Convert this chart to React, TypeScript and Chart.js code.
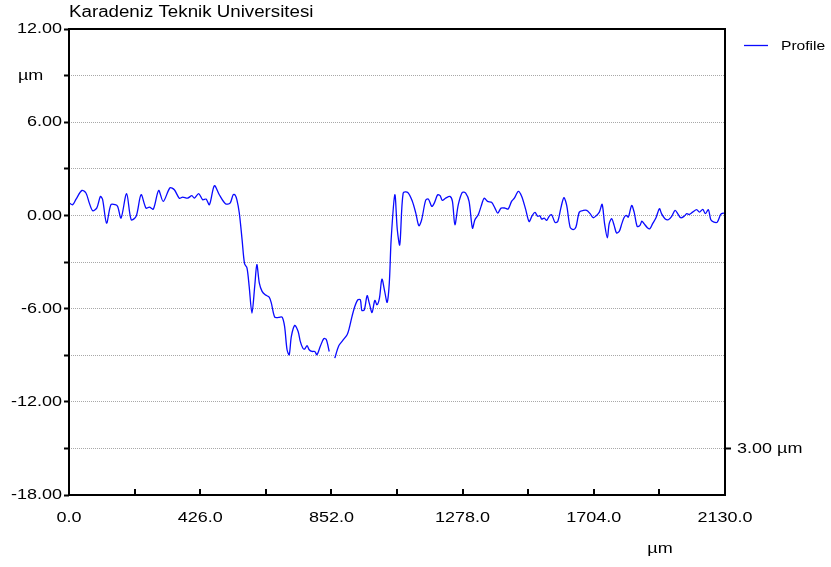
import React, { useEffect, useRef } from "react";
import { Chart, registerables } from "chart.js";

Chart.register(...registerables);

const TITLE = "Karadeniz Teknik Universitesi";
const SERIES_LABEL = "Profile";
const UNIT = "µm";
const SCALE_BAR_LABEL = "3.00 µm";
const SCALE_BAR_VALUE = -15;

const X_MIN = 0;
const X_MAX = 2130;
const X_MINOR_STEP = 213;
const X_LABEL_STEP = 426;

const Y_MIN = -18;
const Y_MAX = 12;
const Y_STEP = 3;
const Y_LABEL_STEP = 6;
const Y_UNIT_TICK = 9;

// Profile positions (µm) and heights (µm); null marks the gap in the trace
const profileX = [
  1, 12, 23, 42, 55, 66, 77, 90, 102, 109, 122, 136, 150, 158, 169, 187, 202, 218, 234, 250,
  261, 274, 291, 306, 328, 342, 358, 369, 385, 399, 407, 421, 434, 445, 456, 472, 488, 508, 523, 533,
  539, 545, 553, 562, 570, 578, 585, 594, 603, 610, 618, 627, 637, 650, 657, 668, 681, 692, 700, 708,
  715, 722, 733, 744, 751, 759, 765, 773, 780, 789, 798, 805, 816, 827, 835, 845, 850, 863, 876, 889,
  903, 910, 919, 928, 938, 946, 951, 959, 968, 975, 984, 993, 1000, 1008, 1016, 1025, 1033, 1040, 1046, 1058,
  1066, 1074, 1085, 1100, 1115, 1126, 1136, 1145, 1158, 1167, 1178, 1186, 1197, 1205, 1212, 1223, 1237, 1245, 1253, 1264,
  1277, 1288, 1299, 1310, 1318, 1329, 1338, 1348, 1359, 1372, 1383, 1392, 1403, 1416, 1426, 1437, 1446, 1459, 1470, 1483,
  1494, 1504, 1513, 1522, 1529, 1535, 1543, 1551, 1559, 1567, 1578, 1587, 1597, 1607, 1616, 1627, 1637, 1646, 1657, 1670,
  1681, 1692, 1702, 1713, 1722, 1731, 1739, 1748, 1754, 1762, 1770, 1778, 1787, 1795, 1802, 1809, 1816, 1827, 1835, 1845,
  1854, 1860, 1867, 1878, 1886, 1895, 1906, 1917, 1924, 1935, 1946, 1957, 1968, 1978, 1986, 1997, 2006, 2014, 2025, 2038,
  2047, 2058, 2066, 2076, 2084, 2094, 2105, 2116, 2124, 2130,
];

const profileY: (number | null)[] = [
  0.79, 0.69, 1.05, 1.61, 1.44, 0.79, 0.3, 0.47, 1.22, 1.03, -0.5, 0.69, 0.69, 0.58, -0.17, 1.4, -0.28, -0.06, 1.33, 0.47,
  0.53, 0.41, 1.61, 0.9, 1.78, 1.65, 1.11, 1.18, 1.11, 1.27, 1.11, 1.4, 1.01, 1.05, 0.69, 1.91, 1.33, 0.75, 0.79, 1.33,
  1.32, 1.01, 0.15, -1.56, -3.11, -3.39, -4.57, -6.29, -4.57, -3.17, -4.36, -4.89, -5.11, -5.26, -5.65, -6.55, -6.57, -6.55, -7.15, -8.65,
  -8.97, -7.79, -7.08, -7.47, -8.11, -8.54, -8.61, -8.39, -8.65, -8.76, -8.76, -8.97, -8.43, -7.94, -7.97, -8.76, null, -9.19, -8.39, -8.05,
  -7.68, -7.26, -6.5, -5.86, -5.43, -5.43, -6.12, -6.07, -5.17, -5.65, -6.25, -5.47, -5.75, -5.32, -4.1, -4.89, -5.6, -4.36, -1.56, 1.33,
  -0.92, -1.89, 1.44, 1.48, 0.9, 0.15, -0.66, -0.28, 0.97, 1.05, 0.58, 0.79, 1.33, 1.27, 0.97, 1.11, 1.22, 0.9, -0.6, 0.69,
  1.48, 1.44, 0.9, -0.82, -0.28, 0.05, 0.58, 1.11, 0.9, 0.84, 0.47, 0.15, 0.47, 0.47, 0.41, 0.9, 1.11, 1.55, 1.22, 0.37,
  -0.39, -0.02, 0.19, -0.06, -0.02, -0.24, -0.17, -0.32, -0.06, 0.05, -0.45, -0.39, 0.47, 1.14, 0.64, -0.75, -0.92, -0.75, 0.21, 0.32,
  0.32, 0.11, -0.15, 0.0, 0.21, 0.71, -0.53, -1.44, -0.53, -0.21, -0.64, -1.14, -1.01, -0.53, -0.15, 0.0, -0.11, 0.64, 0.21, -0.71,
  -0.64, -0.37, -0.53, -0.79, -0.86, -0.53, -0.15, 0.43, 0.11, -0.21, -0.28, -0.06, 0.32, 0.06, -0.15, -0.06, 0.11, 0.06, 0.21, 0.37,
  0.21, 0.39, 0.11, 0.37, -0.28, -0.43, -0.43, 0.06, 0.15, 0.11,
];

const FONT_FAMILY = "'Liberation Sans', Arial, Helvetica, sans-serif";
const LINE_COLOR = "#0a0aff";
const GRID_COLOR = "#a8a8a8";

function range(a: number, b: number, step: number) {
  const out: number[] = [];
  for (let v = a; v <= b + 1e-9; v += step) out.push(Math.round(v * 1000) / 1000);
  return out;
}

function yLabel(v: number) {
  if (v === Y_UNIT_TICK) return UNIT;
  if (Math.abs(v % Y_LABEL_STEP) < 1e-9) return v.toFixed(2);
  return "";
}

function drawText(
  ctx: CanvasRenderingContext2D,
  text: string,
  x: number,
  y: number,
  align: CanvasTextAlign,
  size: number,
  stretch = 1.2
) {
  ctx.save();
  ctx.font = `${size}px ${FONT_FAMILY}`;
  ctx.fillStyle = "#000";
  ctx.textAlign = align;
  ctx.textBaseline = "middle";
  ctx.translate(x, y);
  ctx.scale(stretch, 1);
  ctx.fillText(text, 0, 0);
  ctx.restore();
}

const decorPlugin = {
  id: "decor",
  afterDraw(chart: any) {
    const { ctx, chartArea } = chart;
    const { left, right, top, bottom } = chartArea;
    const xs = chart.scales.x;
    const ys = chart.scales.y;
    ctx.save();
    // frame
    ctx.strokeStyle = "#000";
    ctx.lineWidth = 2;
    ctx.strokeRect(left, top, right - left, bottom - top);
    // inward ticks on bottom axis
    for (const v of range(X_MIN + X_MINOR_STEP, X_MAX - X_MINOR_STEP, X_MINOR_STEP)) {
      const px = Math.round(xs.getPixelForValue(v));
      ctx.beginPath();
      ctx.moveTo(px, bottom);
      ctx.lineTo(px, bottom - 6);
      ctx.stroke();
    }
    ctx.restore();

    // y tick labels
    for (const v of range(Y_MIN, Y_MAX, Y_STEP)) {
      const label = yLabel(v);
      if (!label) continue;
      const py = ys.getPixelForValue(v);
      if (label === UNIT) drawText(ctx, label, left - 51, py, "left", 15);
      else drawText(ctx, label, left - 7, py, "right", 15);
    }
    // x tick labels
    for (const v of range(X_MIN, X_MAX, X_LABEL_STEP)) {
      drawText(ctx, v.toFixed(1), xs.getPixelForValue(v), bottom + 23, "center", 15);
    }
    // scale bar label on right axis
    drawText(ctx, SCALE_BAR_LABEL, right + 12, ys.getPixelForValue(SCALE_BAR_VALUE), "left", 15);
    // x unit
    drawText(ctx, UNIT, 660, 549, "center", 15);
    // title
    drawText(ctx, TITLE, left, 13, "left", 16, 1.17);
    // legend
    ctx.save();
    ctx.strokeStyle = LINE_COLOR;
    ctx.lineWidth = 1.3;
    ctx.beginPath();
    ctx.moveTo(744, 45.5);
    ctx.lineTo(768, 45.5);
    ctx.stroke();
    ctx.restore();
    drawText(ctx, SERIES_LABEL, 781, 46, "left", 13);
  },
};

export default function App() {
  const canvasRef = useRef<HTMLCanvasElement | null>(null);

  useEffect(() => {
    if (!canvasRef.current) return;
    const chart = new Chart(canvasRef.current, {
      type: "line",
      data: {
        datasets: [
          {
            label: SERIES_LABEL,
            data: profileX.map((x, i) => ({ x, y: profileY[i] })) as any,
            borderColor: LINE_COLOR,
            borderWidth: 1.3,
            pointRadius: 0,
            tension: 0.3,
            spanGaps: false,
            fill: false,
          },
        ],
      },
      options: {
        animation: false,
        responsive: false,
        events: [],
        layout: { padding: { top: 29, left: 0, right: 0, bottom: 0 } },
        plugins: {
          legend: { display: false },
          title: { display: false },
          tooltip: { enabled: false },
        },
        scales: {
          x: {
            type: "linear",
            min: X_MIN,
            max: X_MAX,
            grid: { display: false, drawTicks: false },
            border: { display: false },
            afterBuildTicks: (s: any) => {
              s.ticks = range(X_MIN, X_MAX, X_LABEL_STEP).map((v) => ({ value: v }));
            },
            afterFit: (s: any) => {
              s.height = 72;
            },
            ticks: { display: false },
          },
          y: {
            type: "linear",
            position: "left",
            min: Y_MIN,
            max: Y_MAX,
            afterBuildTicks: (s: any) => {
              s.ticks = range(Y_MIN, Y_MAX, Y_STEP).map((v) => ({ value: v }));
            },
            afterFit: (s: any) => {
              s.width = 69;
            },
            grid: {
              color: GRID_COLOR,
              lineWidth: 1,
              tickColor: "#000",
              tickLength: 5,
              tickWidth: 2,
            },
            border: { display: false, dash: [1, 1] },
            ticks: { display: false },
          },
          y2: {
            type: "linear",
            position: "right",
            min: Y_MIN,
            max: Y_MAX,
            afterBuildTicks: (s: any) => {
              s.ticks = [{ value: SCALE_BAR_VALUE }];
            },
            afterFit: (s: any) => {
              s.width = 106;
            },
            grid: {
              drawOnChartArea: false,
              tickColor: "#000",
              tickLength: 6,
              tickWidth: 2,
            },
            border: { display: false },
            ticks: { display: false },
          },
        },
      },
      plugins: [decorPlugin],
    });
    return () => chart.destroy();
  }, []);

  return (
    <div style={{ position: "absolute", left: 0, top: 0, width: 831, height: 567, background: "#fff" }}>
      <canvas ref={canvasRef} width={831} height={567} />
    </div>
  );
}
